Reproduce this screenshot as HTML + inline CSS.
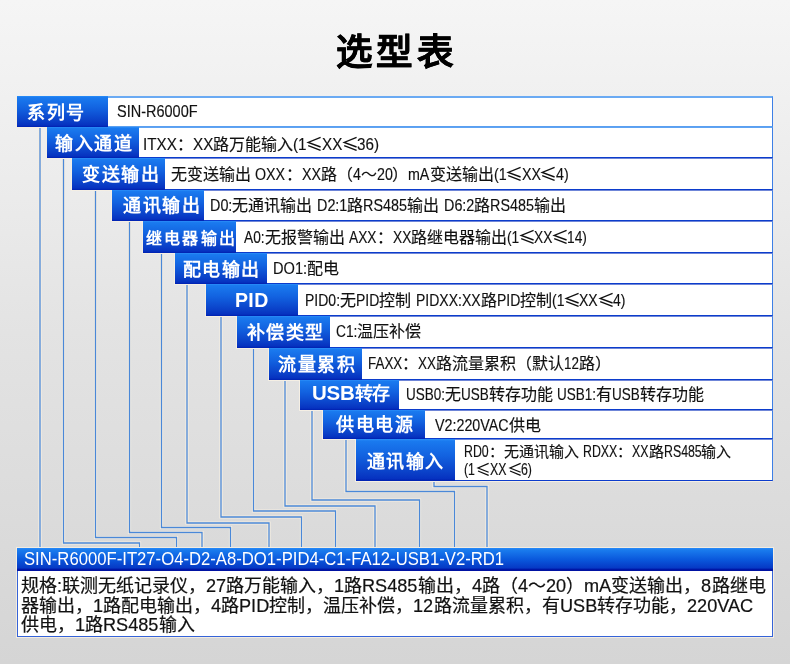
<!DOCTYPE html>
<html lang="zh-CN"><head><meta charset="utf-8">
<style>
html,body{margin:0;padding:0;}
body{width:790px;height:664px;overflow:hidden;position:relative;
 background:linear-gradient(180deg,#f5f5f5 0%,#ebebeb 30%,#e3e3e3 50%,#d5d5d5 100%);
 font-family:"Liberation Sans",sans-serif;}
.t{position:absolute;left:335.5px;top:29.5px;font-size:36.5px;font-weight:bold;color:#000;letter-spacing:4.4px;line-height:46px;white-space:nowrap;-webkit-text-stroke:0.45px #000;text-shadow:0 0 1.5px #fff,0 0 1px #fff;}
.row{position:absolute;box-sizing:border-box;box-shadow:-1px 1px 0 #f5efe4;}
.lbl{position:absolute;top:0;bottom:0;left:0;background:linear-gradient(180deg,#2a8ef8 0%,#1a7aef 5%,#1262e0 40%,#0a40c8 80%,#0632c0 94%,#0020b0 100%);}
.lt{position:absolute;color:#fff;font-weight:bold;white-space:nowrap;top:0;}
.box{position:absolute;top:0;bottom:0;right:0;background:#fff;box-sizing:border-box;border:1px solid #3d7fe6;border-left:none;border-top-color:#5fa4f3;border-bottom-color:#0c3ccc;}
#r0 .box{border-top:2px solid #6aaaf3;border-bottom-color:#5a9ff0;}
#r1 .box{border-top-color:#5fa4f3;}
.row .box{border-top-color:#6f86d8;}

.txt{position:absolute;color:#111;font-size:16px;white-space:nowrap;-webkit-text-stroke:0.15px #111;}
.lines{position:absolute;left:0;top:0;}
.t,.lt,.txt,#bh,#bb{will-change:transform;}
.bar{position:absolute;left:17px;top:548px;width:756px;height:88.5px;box-sizing:border-box;box-shadow:0 0 0 1px #f2ece2;}
.barh{position:absolute;left:0;top:0;right:0;height:22.5px;background:linear-gradient(180deg,#2a8af8 0%,#1a7cee 8%,#0a58dc 50%,#0638c4 88%,#0018a8 91%,#0010a0 100%);color:#fff;font-size:18px;line-height:22px;white-space:nowrap;}
.barb{position:absolute;left:0;top:22.5px;right:0;bottom:0;background:#fff;border:1px solid #3563d8;border-top:none;box-sizing:border-box;color:#111;font-size:18px;line-height:19.5px;white-space:nowrap;-webkit-text-stroke:0.2px #111;}
</style></head><body>
<div class="t">选型表</div>

<svg class="lines" width="790" height="664" viewBox="0 0 790 664">
<path d="M40 127 V548" fill="none" stroke="#f6eee2" stroke-width="3.2"/>
<path d="M63.5 158 V543 H139.5 V548" fill="none" stroke="#f6eee2" stroke-width="3.2"/>
<path d="M95.5 189.5 V537.5 H176.5 V548" fill="none" stroke="#f6eee2" stroke-width="3.2"/>
<path d="M129.5 221 V532.5 H202 V548" fill="none" stroke="#f6eee2" stroke-width="3.2"/>
<path d="M161.5 252.5 V527.5 H230.5 V548" fill="none" stroke="#f6eee2" stroke-width="3.2"/>
<path d="M187 284 V523 H269 V548" fill="none" stroke="#f6eee2" stroke-width="3.2"/>
<path d="M221 315.5 V517 H301.5 V548" fill="none" stroke="#f6eee2" stroke-width="3.2"/>
<path d="M253.5 347.5 V511 H335.5 V548" fill="none" stroke="#f6eee2" stroke-width="3.2"/>
<path d="M285 379 V506 H375 V548" fill="none" stroke="#f6eee2" stroke-width="3.2"/>
<path d="M312 409 V500 H419.5 V548" fill="none" stroke="#f6eee2" stroke-width="3.2"/>
<path d="M346 439 V491.5 H454.5 V548" fill="none" stroke="#f6eee2" stroke-width="3.2"/>
<path d="M434 481 V486.5 H487 V548" fill="none" stroke="#f6eee2" stroke-width="3.2"/>
<path d="M40 127 V548" fill="none" stroke="#4a88d8" stroke-width="1.3"/>
<path d="M63.5 158 V543 H139.5 V548" fill="none" stroke="#4a88d8" stroke-width="1.3"/>
<path d="M95.5 189.5 V537.5 H176.5 V548" fill="none" stroke="#4a88d8" stroke-width="1.3"/>
<path d="M129.5 221 V532.5 H202 V548" fill="none" stroke="#4a88d8" stroke-width="1.3"/>
<path d="M161.5 252.5 V527.5 H230.5 V548" fill="none" stroke="#4a88d8" stroke-width="1.3"/>
<path d="M187 284 V523 H269 V548" fill="none" stroke="#4a88d8" stroke-width="1.3"/>
<path d="M221 315.5 V517 H301.5 V548" fill="none" stroke="#4a88d8" stroke-width="1.3"/>
<path d="M253.5 347.5 V511 H335.5 V548" fill="none" stroke="#4a88d8" stroke-width="1.3"/>
<path d="M285 379 V506 H375 V548" fill="none" stroke="#4a88d8" stroke-width="1.3"/>
<path d="M312 409 V500 H419.5 V548" fill="none" stroke="#4a88d8" stroke-width="1.3"/>
<path d="M346 439 V491.5 H454.5 V548" fill="none" stroke="#4a88d8" stroke-width="1.3"/>
<path d="M434 481 V486.5 H487 V548" fill="none" stroke="#4a88d8" stroke-width="1.3"/>
</svg>
<div class="row" id="r0" style="left:17px;top:95.6px;width:756px;height:31.400000000000006px">
<div class="box" style="left:91px"></div>
<div class="lbl" style="width:91px"><span class="lt" id="l0" style="left:10.42px;top:2.4px;font-size:18px;letter-spacing:1.7006570713390825px;line-height:31.400000000000006px">系列号</span></div>
<div class="txt" id="t0" style="left:100.23px;top:0.6px;line-height:31.400000000000006px"><span style="display:inline-block;line-height:0;font-size:17px;transform:scaleX(0.8527);transform-origin:0 0;margin-right:-13.92px">SIN-R6000F</span></div>
</div>
<div class="row" id="r1" style="left:47.3px;top:127px;width:725.7px;height:31px">
<div class="box" style="left:92.2px"></div>
<div class="lbl" style="width:92.2px"><span class="lt" id="l1" style="left:7.68px;top:1.8px;font-size:18px;letter-spacing:1.6561781609196198px;line-height:31px">输入通道</span></div>
<div class="txt" id="t1" style="left:95.76px;top:2.0px;line-height:31px"><span style="display:inline-block;line-height:0;font-size:17px;transform:scaleX(0.8955);transform-origin:0 0;margin-right:-3.95px">ITXX</span>：<span style="display:inline-block;line-height:0;font-size:17px;transform:scaleX(0.8955);transform-origin:0 0;margin-right:-2.37px">XX</span>路万能输入<span style="display:inline-block;line-height:0;font-size:17px;transform:scaleX(0.8955);transform-origin:0 0;margin-right:-1.58px">(1</span><svg width="16" height="15" viewBox="0 0 16 15" style="vertical-align:-1px;margin:0 -0.5px"><path d="M14.6 1.4 L2.2 6.4 L14.6 11 M2.2 9.6 L14.6 14.4" fill="none" stroke="#111" stroke-width="1.35"/></svg><span style="display:inline-block;line-height:0;font-size:17px;transform:scaleX(0.8955);transform-origin:0 0;margin-right:-2.37px">XX</span><svg width="16" height="15" viewBox="0 0 16 15" style="vertical-align:-1px;margin:0 -0.5px"><path d="M14.6 1.4 L2.2 6.4 L14.6 11 M2.2 9.6 L14.6 14.4" fill="none" stroke="#111" stroke-width="1.35"/></svg><span style="display:inline-block;line-height:0;font-size:17px;transform:scaleX(0.8955);transform-origin:0 0;margin-right:-2.57px">36)</span></div>
</div>
<div class="row" id="r2" style="left:72.2px;top:158px;width:700.8px;height:31.599999999999994px">
<div class="box" style="left:92.8px"></div>
<div class="lbl" style="width:92.8px"><span class="lt" id="l2" style="left:9.60px;top:1.8px;font-size:18px;letter-spacing:1.628017241379492px;line-height:31.599999999999994px">变送输出</span></div>
<div class="txt" id="t2" style="left:98.96px;top:1.2px;line-height:31.599999999999994px">无变送输出 <span style="display:inline-block;line-height:0;font-size:17px;transform:scaleX(0.8383);transform-origin:0 0;margin-right:-5.81px">OXX</span>：<span style="display:inline-block;line-height:0;font-size:17px;transform:scaleX(0.8383);transform-origin:0 0;margin-right:-3.67px">XX</span>路（<span style="display:inline-block;line-height:0;font-size:17px;transform:scaleX(0.8383);transform-origin:0 0;margin-right:-1.53px">4</span>～<span style="display:inline-block;line-height:0;font-size:17px;transform:scaleX(0.8383);transform-origin:0 0;margin-right:-3.06px">20</span>）<span style="display:inline-block;line-height:0;font-size:17px;transform:scaleX(0.8383);transform-origin:0 0;margin-right:-4.12px">mA</span>变送输出<span style="display:inline-block;line-height:0;font-size:17px;transform:scaleX(0.8383);transform-origin:0 0;margin-right:-2.45px">(1</span><svg width="16" height="15" viewBox="0 0 16 15" style="vertical-align:-1px;margin:0 -0.5px"><path d="M14.6 1.4 L2.2 6.4 L14.6 11 M2.2 9.6 L14.6 14.4" fill="none" stroke="#111" stroke-width="1.35"/></svg><span style="display:inline-block;line-height:0;font-size:17px;transform:scaleX(0.8383);transform-origin:0 0;margin-right:-3.67px">XX</span><svg width="16" height="15" viewBox="0 0 16 15" style="vertical-align:-1px;margin:0 -0.5px"><path d="M14.6 1.4 L2.2 6.4 L14.6 11 M2.2 9.6 L14.6 14.4" fill="none" stroke="#111" stroke-width="1.35"/></svg><span style="display:inline-block;line-height:0;font-size:17px;transform:scaleX(0.8383);transform-origin:0 0;margin-right:-2.45px">4)</span></div>
</div>
<div class="row" id="r3" style="left:111.8px;top:189.6px;width:661.2px;height:31.599999999999994px">
<div class="box" style="left:92.2px"></div>
<div class="lbl" style="width:92.2px"><span class="lt" id="l3" style="left:10.87px;top:1.6999999999999997px;font-size:18px;letter-spacing:1.533764367816184px;line-height:31.599999999999994px">通讯输出</span></div>
<div class="txt" id="t3" style="left:98.08px;top:0.0px;line-height:31.599999999999994px"><span style="display:inline-block;line-height:0;font-size:17px;transform:scaleX(0.8455);transform-origin:0 0;margin-right:-4.09px">D0:</span>无通讯输出 <span style="display:inline-block;line-height:0;font-size:17px;transform:scaleX(0.8455);transform-origin:0 0;margin-right:-5.55px">D2:1</span>路<span style="display:inline-block;line-height:0;font-size:17px;transform:scaleX(0.8455);transform-origin:0 0;margin-right:-8.03px">RS485</span>输出 <span style="display:inline-block;line-height:0;font-size:17px;transform:scaleX(0.8455);transform-origin:0 0;margin-right:-5.55px">D6:2</span>路<span style="display:inline-block;line-height:0;font-size:17px;transform:scaleX(0.8455);transform-origin:0 0;margin-right:-8.03px">RS485</span>输出</div>
</div>
<div class="row" id="r4" style="left:143px;top:221.2px;width:630px;height:31.5px">
<div class="box" style="left:93px"></div>
<div class="lbl" style="width:93px"><span class="lt" id="l4" style="left:2.85px;top:1.8999999999999997px;font-size:16px;letter-spacing:2.1841594827584285px;line-height:31.5px">继电器输出</span></div>
<div class="txt" id="t4" style="left:101.23px;top:0.5px;line-height:31.5px"><span style="display:inline-block;line-height:0;font-size:17px;transform:scaleX(0.8073);transform-origin:0 0;margin-right:-4.92px">A0:</span>无报警输出 <span style="display:inline-block;line-height:0;font-size:17px;transform:scaleX(0.8073);transform-origin:0 0;margin-right:-6.56px">AXX</span>：<span style="display:inline-block;line-height:0;font-size:17px;transform:scaleX(0.8073);transform-origin:0 0;margin-right:-4.37px">XX</span>路继电器输出<span style="display:inline-block;line-height:0;font-size:17px;transform:scaleX(0.8073);transform-origin:0 0;margin-right:-2.91px">(1</span><svg width="16" height="15" viewBox="0 0 16 15" style="vertical-align:-1px;margin:0 -0.5px"><path d="M14.6 1.4 L2.2 6.4 L14.6 11 M2.2 9.6 L14.6 14.4" fill="none" stroke="#111" stroke-width="1.35"/></svg><span style="display:inline-block;line-height:0;font-size:17px;transform:scaleX(0.8073);transform-origin:0 0;margin-right:-4.37px">XX</span><svg width="16" height="15" viewBox="0 0 16 15" style="vertical-align:-1px;margin:0 -0.5px"><path d="M14.6 1.4 L2.2 6.4 L14.6 11 M2.2 9.6 L14.6 14.4" fill="none" stroke="#111" stroke-width="1.35"/></svg><span style="display:inline-block;line-height:0;font-size:17px;transform:scaleX(0.8073);transform-origin:0 0;margin-right:-4.74px">14)</span></div>
</div>
<div class="row" id="r5" style="left:174.8px;top:252.7px;width:598.2px;height:31.600000000000023px">
<div class="box" style="left:92.19999999999999px"></div>
<div class="lbl" style="width:92.19999999999999px"><span class="lt" id="l5" style="left:7.82px;top:2.8px;font-size:18px;letter-spacing:1.4955459770111401px;line-height:31.600000000000023px">配电输出</span></div>
<div class="txt" id="t5" style="left:98.04px;top:0.19999999999999996px;line-height:31.600000000000023px"><span style="display:inline-block;line-height:0;font-size:17px;transform:scaleX(0.8592);transform-origin:0 0;margin-right:-5.59px">DO1:</span>配电</div>
</div>
<div class="row" id="r6" style="left:206.2px;top:284.3px;width:566.8px;height:31.69999999999999px">
<div class="box" style="left:92.10000000000002px"></div>
<div class="lbl" style="width:92.10000000000002px"><span class="lt" id="l6" style="left:29.08px;top:1.0px;font-size:19.5px;letter-spacing:0.36727172040380784px;line-height:31.69999999999999px">PID</span></div>
<div class="txt" id="t6" style="left:98.48px;top:1.0px;line-height:31.69999999999999px"><span style="display:inline-block;line-height:0;font-size:17px;transform:scaleX(0.8245);transform-origin:0 0;margin-right:-7.46px">PID0:</span>无<span style="display:inline-block;line-height:0;font-size:17px;transform:scaleX(0.8245);transform-origin:0 0;margin-right:-4.97px">PID</span>控制 <span style="display:inline-block;line-height:0;font-size:17px;transform:scaleX(0.8245);transform-origin:0 0;margin-right:-13.76px">PIDXX:XX</span>路<span style="display:inline-block;line-height:0;font-size:17px;transform:scaleX(0.8245);transform-origin:0 0;margin-right:-4.97px">PID</span>控制<span style="display:inline-block;line-height:0;font-size:17px;transform:scaleX(0.8245);transform-origin:0 0;margin-right:-2.65px">(1</span><svg width="16" height="15" viewBox="0 0 16 15" style="vertical-align:-1px;margin:0 -0.5px"><path d="M14.6 1.4 L2.2 6.4 L14.6 11 M2.2 9.6 L14.6 14.4" fill="none" stroke="#111" stroke-width="1.35"/></svg><span style="display:inline-block;line-height:0;font-size:17px;transform:scaleX(0.8245);transform-origin:0 0;margin-right:-3.98px">XX</span><svg width="16" height="15" viewBox="0 0 16 15" style="vertical-align:-1px;margin:0 -0.5px"><path d="M14.6 1.4 L2.2 6.4 L14.6 11 M2.2 9.6 L14.6 14.4" fill="none" stroke="#111" stroke-width="1.35"/></svg><span style="display:inline-block;line-height:0;font-size:17px;transform:scaleX(0.8245);transform-origin:0 0;margin-right:-2.65px">4)</span></div>
</div>
<div class="row" id="r7" style="left:237.3px;top:316px;width:535.7px;height:32px">
<div class="box" style="left:92.30000000000001px"></div>
<div class="lbl" style="width:92.30000000000001px"><span class="lt" id="l7" style="left:9.68px;top:0.8px;font-size:18px;letter-spacing:1.4655172413795532px;line-height:32px">补偿类型</span></div>
<div class="txt" id="t7" style="left:98.98px;top:0.30000000000000004px;line-height:32px"><span style="display:inline-block;line-height:0;font-size:17px;transform:scaleX(0.8107);transform-origin:0 0;margin-right:-5.01px">C1:</span>温压补偿</div>
</div>
<div class="row" id="r8" style="left:269.3px;top:348px;width:503.7px;height:31.5px">
<div class="box" style="left:92.39999999999998px"></div>
<div class="lbl" style="width:92.39999999999998px"><span class="lt" id="l8" style="left:9.14px;top:1.8px;font-size:18px;letter-spacing:1.560438747076003px;line-height:31.5px">流量累积</span></div>
<div class="txt" id="t8" style="left:98.40px;top:0.0px;line-height:31.5px"><span style="display:inline-block;line-height:0;font-size:17px;transform:scaleX(0.7895);transform-origin:0 0;margin-right:-9.15px">FAXX</span>：<span style="display:inline-block;line-height:0;font-size:17px;transform:scaleX(0.7895);transform-origin:0 0;margin-right:-4.77px">XX</span>路流量累积（默认<span style="display:inline-block;line-height:0;font-size:17px;transform:scaleX(0.7895);transform-origin:0 0;margin-right:-3.98px">12</span>路）</div>
</div>
<div class="row" id="r9" style="left:300px;top:379.5px;width:473px;height:30.5px">
<div class="box" style="left:99.39999999999998px"></div>
<div class="lbl" style="width:99.39999999999998px"><span class="lt" id="l9" style="left:11.76px;top:-1.1px;font-size:18px;letter-spacing:-0.25901287553657054px;line-height:30.5px"><span style="font-size:20.5px">USB</span>转存</span></div>
<div class="txt" id="t9" style="left:105.82px;top:0.0px;line-height:30.5px"><span style="display:inline-block;line-height:0;font-size:17px;transform:scaleX(0.7937);transform-origin:0 0;margin-right:-10.14px">USB0:</span>无<span style="display:inline-block;line-height:0;font-size:17px;transform:scaleX(0.7937);transform-origin:0 0;margin-right:-7.21px">USB</span>转存功能 <span style="display:inline-block;line-height:0;font-size:17px;transform:scaleX(0.7937);transform-origin:0 0;margin-right:-10.14px">USB1:</span>有<span style="display:inline-block;line-height:0;font-size:17px;transform:scaleX(0.7937);transform-origin:0 0;margin-right:-7.21px">USB</span>转存功能</div>
</div>
<div class="row" id="r10" style="left:323px;top:410px;width:450px;height:29.30000000000001px">
<div class="box" style="left:101.69999999999999px"></div>
<div class="lbl" style="width:101.69999999999999px"><span class="lt" id="l10" style="left:12.68px;top:1.4px;font-size:18px;letter-spacing:1.6080780425235666px;line-height:29.30000000000001px">供电电源</span></div>
<div class="txt" id="t10" style="left:111.59px;top:0.5px;line-height:29.30000000000001px"><span style="display:inline-block;line-height:0;font-size:17px;transform:scaleX(0.8412);transform-origin:0 0;margin-right:-13.91px">V2:220VAC</span>供电</div>
</div>
<div class="row" id="r11" style="left:355.8px;top:439.3px;width:417.2px;height:41.69999999999999px">
<div class="box" style="left:99.19999999999999px"></div>
<div class="lbl" style="width:99.19999999999999px"><span class="lt" id="l11" style="left:11.64px;top:2.8px;font-size:18px;letter-spacing:1.4748226950345922px;line-height:41.69999999999999px">通讯输入</span></div>
<div class="txt" id="t11" style="left:107.88px;top:4.0px;line-height:18px;font-size:15px"><span style="display:inline-block;line-height:0;font-size:16px;transform:scaleX(0.7710);transform-origin:0 0;margin-right:-7.33px">RD0</span>：无通讯输入 <span style="display:inline-block;line-height:0;font-size:16px;transform:scaleX(0.7710);transform-origin:0 0;margin-right:-10.18px">RDXX</span>：<span style="display:inline-block;line-height:0;font-size:16px;transform:scaleX(0.7710);transform-origin:0 0;margin-right:-4.89px">XX</span>路<span style="display:inline-block;line-height:0;font-size:16px;transform:scaleX(0.7710);transform-origin:0 0;margin-right:-11.20px">RS485</span>输入<br><span style="display:inline-block;line-height:0;font-size:16px;transform:scaleX(0.7710);transform-origin:0 0;margin-right:-3.26px">(1</span><svg width="15" height="14" viewBox="0 0 16 15" style="vertical-align:-1px;margin:0 -0.5px 0 0.5px"><path d="M14.6 1.4 L3.2 6.4 L14.6 11 M3.2 9.6 L14.6 14.4" fill="none" stroke="#111" stroke-width="1.35"/></svg><span style="display:inline-block;line-height:0;font-size:16px;transform:scaleX(0.7710);transform-origin:0 0;margin-right:-4.89px">XX</span><svg width="15" height="14" viewBox="0 0 16 15" style="vertical-align:-1px;margin:0 -0.5px 0 0.5px"><path d="M14.6 1.4 L3.2 6.4 L14.6 11 M3.2 9.6 L14.6 14.4" fill="none" stroke="#111" stroke-width="1.35"/></svg><span style="display:inline-block;line-height:0;font-size:16px;transform:scaleX(0.7710);transform-origin:0 0;margin-right:-3.26px">6)</span></div>
</div>
<div class="bar"><div class="barh"><span id="bh" style="position:absolute;left:6.50px;top:0.2px"><span style="display:inline-block;line-height:0;font-size:19px;transform:scaleX(0.8778);transform-origin:0 0;margin-right:-66.83px">SIN-R6000F-IT27-O4-D2-A8-DO1-PID4-C1-FA12-USB1-V2-RD1</span></span></div>
<div class="barb"><div id="bb" style="position:absolute;left:2.50px;top:6.5px">规格<span style="display:inline-block;line-height:0;font-size:18.5px;transform:scaleX(0.9803);transform-origin:0 0;margin-right:-0.10px">:</span>联测无纸记录仪，<span style="display:inline-block;line-height:0;font-size:18.5px;transform:scaleX(0.9803);transform-origin:0 0;margin-right:-0.40px">27</span>路万能输入，<span style="display:inline-block;line-height:0;font-size:18.5px;transform:scaleX(0.9803);transform-origin:0 0;margin-right:-0.20px">1</span>路<span style="display:inline-block;line-height:0;font-size:18.5px;transform:scaleX(0.9803);transform-origin:0 0;margin-right:-1.11px">RS485</span>输出，<span style="display:inline-block;line-height:0;font-size:18.5px;transform:scaleX(0.9803);transform-origin:0 0;margin-right:-0.20px">4</span>路（<span style="display:inline-block;line-height:0;font-size:18.5px;transform:scaleX(0.9803);transform-origin:0 0;margin-right:-0.20px">4</span>～<span style="display:inline-block;line-height:0;font-size:18.5px;transform:scaleX(0.9803);transform-origin:0 0;margin-right:-0.40px">20</span>）<span style="display:inline-block;line-height:0;font-size:18.5px;transform:scaleX(0.9803);transform-origin:0 0;margin-right:-0.55px">mA</span>变送输出，<span style="display:inline-block;line-height:0;font-size:18.5px;transform:scaleX(0.9803);transform-origin:0 0;margin-right:-0.20px">8</span>路继电<br>器输出，<span style="display:inline-block;line-height:0;font-size:18.5px;transform:scaleX(0.9803);transform-origin:0 0;margin-right:-0.20px">1</span>路配电输出，<span style="display:inline-block;line-height:0;font-size:18.5px;transform:scaleX(0.9803);transform-origin:0 0;margin-right:-0.20px">4</span>路<span style="display:inline-block;line-height:0;font-size:18.5px;transform:scaleX(0.9803);transform-origin:0 0;margin-right:-0.61px">PID</span>控制，温压补偿，<span style="display:inline-block;line-height:0;font-size:18.5px;transform:scaleX(0.9803);transform-origin:0 0;margin-right:-0.40px">12</span>路流量累积，有<span style="display:inline-block;line-height:0;font-size:18.5px;transform:scaleX(0.9803);transform-origin:0 0;margin-right:-0.75px">USB</span>转存功能，<span style="display:inline-block;line-height:0;font-size:18.5px;transform:scaleX(0.9803);transform-origin:0 0;margin-right:-1.33px">220VAC</span><br>供电，<span style="display:inline-block;line-height:0;font-size:18.5px;transform:scaleX(0.9803);transform-origin:0 0;margin-right:-0.20px">1</span>路<span style="display:inline-block;line-height:0;font-size:18.5px;transform:scaleX(0.9803);transform-origin:0 0;margin-right:-1.11px">RS485</span>输入</div></div></div>
</body></html>
